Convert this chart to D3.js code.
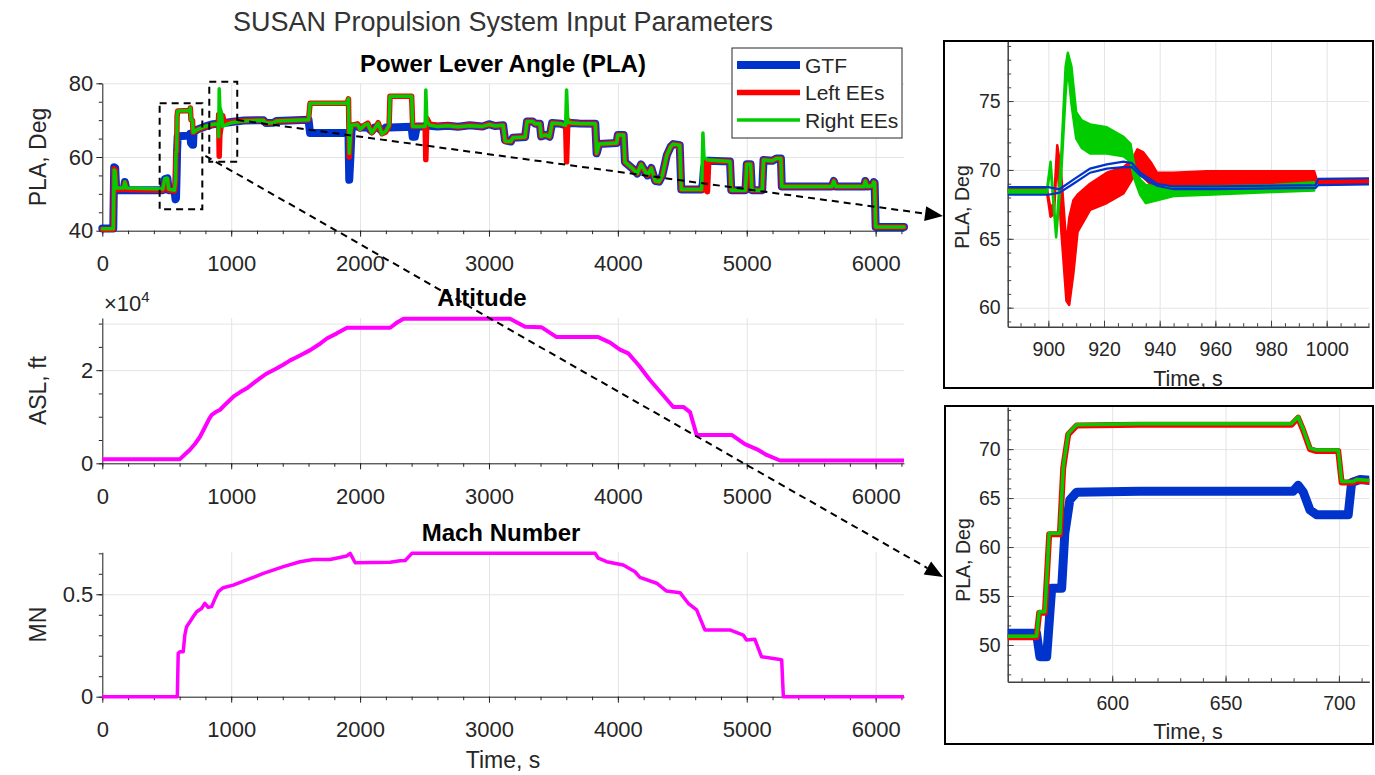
<!DOCTYPE html>
<meta charset="utf-8">
<style>
body { margin: 0; background: #fff; }
text { font-family: "Liberation Sans", Arial, sans-serif; fill: #262626; }
</style>
<body>
  <div class="chart"></div>
</body>
<script src="https://cdn.jsdelivr.net/npm/d3@7"></script>
<script>

// ---- main PLA trace (time in s, PLA in deg) ----
var plaTime = [0, 85, 92, 100, 108, 165, 175, 188, 470, 485, 505, 515, 560, 568, 572, 577, 580, 585, 680, 683,
  688, 700, 704, 708, 740, 800, 860, 900, 903, 907, 912, 925, 933, 945, 1000, 1100, 1250, 1270, 1330, 1350,
  1600, 1612, 1900, 1910, 1916, 1925, 1935, 1980, 2000, 2040, 2060, 2090, 2110, 2140, 2170, 2200, 2225, 2232, 2400, 2408,
  2425, 2440, 2505, 2510, 2518, 2540, 2600, 2680, 2760, 2850, 2950, 3000, 3050, 3110, 3125, 3170, 3185, 3280, 3295, 3340,
  3360, 3395, 3405, 3440, 3470, 3490, 3560, 3595, 3602, 3612, 3640, 3700, 3825, 3835, 3855, 3990, 4000, 4045, 4055, 4110,
  4150, 4180, 4230, 4260, 4290, 4320, 4345, 4380, 4410, 4430, 4480, 4492, 4650, 4660, 4668, 4685, 4695, 4705, 4870, 4880,
  4990, 5000, 5030, 5040, 5120, 5130, 5200, 5230, 5265, 5272, 5660, 5675, 5690, 5910, 5920, 5935, 5975, 5985, 5992, 6000, 6220];
var plaGtf = [40.6, 40.6, 57.2, 57.0, 51.0, 51.0, 53.2, 51.0, 51.0, 54.0, 54.2, 51.0, 51.0, 48.5, 48.8, 55.8, 61.4, 65.6, 65.8, 66.3,
  63.8, 63.3, 63.3, 66.7, 67.5, 68.3, 68.9, 69.0, 69.0, 69.3, 70.0, 70.4, 70.0, 69.2, 69.5, 69.9, 70.0, 69.2, 69.3, 69.8,
  70.1, 66.5, 66.5, 66.3, 53.8, 60.0, 68.3, 68.3, 68.0, 68.0, 68.0, 67.0, 68.0, 68.0, 67.0, 68.0, 68.0, 68.0, 68.2, 65.5,
  65.5, 68.3, 68.3, 68.6, 68.6, 68.5, 68.3, 68.5, 68.2, 68.6, 68.3, 68.9, 68.4, 68.6, 64.5, 64.2, 65.2, 65.4, 69.6, 69.6,
  69.0, 69.0, 65.6, 66.0, 65.5, 69.2, 69.0, 68.6, 69.0, 69.0, 69.2, 69.1, 69.0, 61.0, 63.5, 63.8, 66.0, 66.0, 58.6, 57.0,
  55.5, 58.0, 55.0, 57.0, 53.5, 53.3, 55.0, 60.5, 62.8, 63.5, 63.2, 51.2, 51.2, 53.0, 57.0, 59.0, 59.0, 59.0, 58.8, 51.0,
  51.0, 58.0, 58.0, 51.0, 51.0, 59.2, 59.0, 59.6, 59.6, 52.0, 52.0, 53.5, 52.0, 52.0, 53.5, 52.0, 52.2, 53.2, 53.0, 41.0, 41.0];
var plaLeftEEs = [40.4, 40.4, 56.8, 56.5, 51.2, 51.2, 53.0, 51.2, 51.0, 53.5, 53.8, 51.0, 50.8, 53.4, 61.4, 61.4, 71.0, 72.5, 72.6, 73.3,
  70.1, 69.9, 66.7, 66.7, 67.4, 68.2, 68.8, 68.9, 71.5, 60.2, 66.0, 69.0, 71.3, 69.4, 69.5, 69.9, 70.0, 69.2, 69.3, 69.8,
  70.1, 74.6, 74.6, 75.8, 60.0, 67.0, 68.6, 69.0, 67.6, 68.8, 69.2, 66.6, 67.3, 69.3, 66.3, 66.8, 68.5, 76.5, 76.5, 68.4,
  68.4, 68.4, 68.4, 59.3, 70.5, 69.0, 68.5, 68.6, 68.2, 68.6, 68.3, 68.9, 68.4, 68.6, 64.3, 64.2, 65.2, 65.4, 69.6, 69.6,
  69.0, 69.0, 65.6, 66.0, 65.5, 69.2, 69.0, 68.6, 58.7, 70.0, 69.2, 69.1, 69.0, 61.0, 63.5, 63.8, 66.0, 66.0, 58.6, 57.0,
  55.5, 58.0, 55.0, 57.0, 53.5, 53.3, 55.0, 60.5, 62.8, 63.5, 63.2, 51.2, 51.2, 51.0, 58.0, 59.0, 50.6, 59.0, 58.8, 51.0,
  51.0, 58.0, 58.0, 51.0, 51.0, 59.2, 59.0, 59.6, 59.6, 52.0, 52.0, 53.5, 52.0, 52.0, 53.5, 52.0, 52.2, 53.2, 53.0, 41.0, 41.0];
var plaRightEEs = [40.5, 40.5, 56.5, 56.2, 51.6, 51.6, 53.2, 51.6, 51.3, 54.2, 54.3, 51.3, 51.0, 53.4, 61.4, 61.4, 71.0, 72.5, 72.6, 73.3,
  70.1, 69.9, 66.7, 66.7, 67.5, 68.3, 68.9, 69.0, 65.5, 78.5, 73.5, 72.0, 68.3, 68.5, 69.3, 69.8, 70.0, 69.2, 69.3, 69.8,
  70.1, 74.6, 74.6, 75.8, 61.0, 66.0, 68.6, 68.8, 67.5, 68.8, 69.0, 66.5, 67.5, 69.2, 66.2, 67.0, 68.5, 76.5, 76.5, 68.3,
  68.3, 68.3, 68.3, 78.2, 69.8, 68.6, 68.3, 68.5, 68.2, 68.5, 68.3, 68.8, 68.4, 68.6, 64.3, 64.2, 65.2, 65.4, 69.6, 69.6,
  69.0, 69.0, 65.6, 66.0, 65.5, 69.2, 69.0, 68.6, 78.2, 69.5, 69.2, 69.1, 69.0, 61.0, 63.5, 63.8, 66.0, 66.0, 58.6, 57.0,
  55.5, 58.0, 55.0, 57.0, 53.5, 53.3, 55.0, 60.5, 62.8, 63.5, 63.2, 51.2, 51.2, 66.5, 60.0, 59.5, 59.2, 59.2, 58.8, 51.0,
  51.0, 58.0, 58.0, 51.0, 51.0, 59.2, 59.0, 59.6, 59.6, 52.0, 52.0, 53.5, 52.0, 52.0, 53.5, 52.0, 52.2, 53.2, 53.0, 41.0, 41.0];

// ---- altitude (ft) ----
var altTime = [0, 600, 640, 680, 720, 758, 797, 830, 849, 880, 914, 960, 1017, 1070, 1121, 1186, 1230, 1277, 1355, 1400,
  1458, 1530, 1613, 1680, 1742, 1820, 1898, 2234, 2290, 2337, 3163, 3280, 3409, 3525, 3848, 3940, 4016, 4081, 4160, 4249,
  4340, 4430, 4508, 4560, 4611, 4883, 4986, 5080, 5154, 5258, 6220];
var altFeet = [850, 850, 1900, 2900, 4200, 5700, 7800, 9600, 10400, 11000, 11500, 12800, 14300, 15300, 16100, 17500, 18400, 19300, 20400, 21100,
  22100, 23100, 24300, 25500, 26800, 27900, 29100, 29100, 30300, 31050, 31050, 29300, 29200, 27100, 27100, 25900, 24400, 23600, 21100, 17900,
  15000, 12100, 12100, 11000, 6100, 6100, 4100, 3000, 1800, 600, 600];

// ---- Mach number ----
var machTime = [0, 582, 589, 602, 628, 640, 654, 680, 705, 732, 770, 796, 822, 848, 875, 900, 938, 1016, 1120, 1250,
  1405, 1534, 1638, 1767, 1897, 1923, 1962, 2233, 2311, 2350, 2402, 3824, 3848, 3913, 4042, 4133, 4171, 4301, 4378, 4482,
  4546, 4611, 4675, 4869, 4973, 4998, 5063, 5115, 5258, 5271, 5284, 6220];
var machNumber = [0, 0, 0.212, 0.22, 0.22, 0.30, 0.342, 0.366, 0.39, 0.415, 0.431, 0.456, 0.436, 0.44, 0.48, 0.513, 0.532, 0.545, 0.570, 0.602,
  0.635, 0.659, 0.670, 0.670, 0.687, 0.700, 0.654, 0.656, 0.664, 0.665, 0.700, 0.700, 0.676, 0.659, 0.643, 0.610, 0.583, 0.554, 0.516, 0.508,
  0.456, 0.424, 0.326, 0.326, 0.301, 0.277, 0.280, 0.195, 0.182, 0.180, 0, 0];

// ---- zoom A (900-1000 s): bands of runs, upper / lower edge ----
var zoomATimeGtf = [885, 900, 904, 909, 915, 921, 927, 930, 933, 936, 939, 945, 960, 996, 997, 1016];
var zoomAGtfHigh = [68.75, 68.75, 68.6, 69.3, 70.1, 70.4, 70.6, 70.5, 69.8, 69.4, 69.0, 68.8, 68.8, 68.9, 69.35, 69.4];
var zoomAGtfLow  = [68.2, 68.2, 68.35, 69.0, 69.8, 70.1, 70.2, 70.2, 69.6, 69.2, 68.85, 68.6, 68.6, 68.7, 68.9, 68.95];
var zoomATimeLeft = [885, 899.5, 900.8, 902.0, 903.2, 904.5, 906.5, 907.5, 909, 910.5, 915, 921, 927, 930, 932, 934, 937, 939, 945, 957, 981, 995.5, 996.5, 1016];
var zoomALeftHigh = [68.6, 68.6, 67.2, 67.6, 71.8, 70.0, 64.5, 66.5, 67.8, 68.2, 69.0, 69.8, 70.2, 70.7, 71.5, 71.3, 70.5, 69.8, 69.8, 69.9, 69.9, 69.9, 69.25, 69.25];
var zoomALeftLow  = [68.4, 68.4, 66.6, 66.8, 71.0, 66.0, 60.5, 60.2, 62.5, 65.5, 67.1, 67.6, 68.3, 69.3, 69.8, 69.5, 68.9, 68.8, 68.7, 68.9, 69.0, 69.0, 69.05, 69.05];
var zoomATimeRight = [885, 899.5, 900.8, 902.8, 904.5, 906.2, 907, 908.3, 910, 912, 915, 921, 927, 929.5, 931, 933, 935, 939, 945, 957, 981, 995.5];
var zoomARightHigh = [68.55, 68.55, 70.6, 65.4, 70.5, 77.5, 78.5, 77.5, 74.2, 73.6, 73.3, 73.1, 72.4, 71.9, 70.2, 69.3, 68.9, 68.8, 68.7, 68.8, 68.9, 69.1];
var zoomARightLow  = [68.35, 68.35, 70.2, 65.1, 69.2, 75.5, 77.5, 74.8, 72.3, 71.6, 71.2, 71.2, 71.0, 70.6, 69.3, 68.2, 67.6, 67.8, 68.1, 68.2, 68.4, 68.5];

// ---- zoom B (560-710 s) ----
var zoomBTimeGtf = [553, 566.6, 568.1, 571.1, 573.3, 577.7, 579.1, 581.3, 584.3, 612, 679.8, 682.0, 684.3, 687.2, 690.1, 704.1, 705.6, 709.3, 714];
var zoomBGtf = [51.2, 51.2, 48.8, 48.8, 55.8, 55.8, 61.4, 64.8, 65.6, 65.7, 65.7, 66.3, 65.6, 63.8, 63.3, 63.3, 66.6, 66.9, 66.8];
var zoomBTimeEEs = [553, 566.6, 567.8, 570.3, 572.2, 576.9, 578.4, 580.6, 584.3, 612, 679.1, 682.0, 684.3, 687.2, 690.1, 699.7, 701.2, 706.3, 707.8, 714];
var zoomBLeftEEs = [50.8, 50.8, 53.3, 53.3, 61.3, 61.3, 68.1, 71.5, 72.4, 72.5, 72.5, 73.2, 71.9, 70.0, 69.8, 69.8, 66.6, 66.6, 66.8, 66.7];
var zoomBRightEEs = [50.9, 50.9, 53.4, 53.4, 61.4, 61.4, 68.2, 71.6, 72.5, 72.6, 72.6, 73.3, 72.0, 70.1, 69.9, 69.9, 66.7, 66.7, 66.9, 66.8];

// ---- tick labels ----
var timeTicks = [0, 1000, 2000, 3000, 4000, 5000, 6000];
var plaTicks = [40, 60, 80];
var altTicks = [0, 20000];
var machTicks = [0, 0.5];
var zoomATimeTicks = [900, 920, 940, 960, 980, 1000];
var zoomAPlaTicks = [60, 65, 70, 75];
var zoomBTimeTicks = [600, 650, 700];
var zoomBPlaTicks = [50, 55, 60, 65, 70];

// zoomed windows marked on the PLA plot
var zoomBoxTime = [[445, 776], [830, 1047]];
var zoomBoxPla = [[45.8, 74.6], [58.7, 80.4]];

var seriesNames = ["GTF", "Left EEs", "Right EEs"];
var seriesColors = ["#0033cc", "#ff0000", "#00cc00"];

var fontFamily = "'Liberation Sans', Arial, sans-serif";

var svg = d3.select(".chart")
        .append("svg")
        .attr("width", 1375)
        .attr("height", 775)
        .style("display", "block");

// scales
var x = d3.scaleLinear().domain([0, 6220]).range([102.3, 904]);
var yPla = d3.scaleLinear().domain([40, 80]).range([230.7, 83.3]);
var yAlt = d3.scaleLinear().domain([0, 31200]).range([463.3, 318]);
var yMach = d3.scaleLinear().domain([0, 0.705]).range([696.7, 552.3]);

var xA = d3.scaleLinear().domain([885.4, 1015.2]).range([1007.7, 1369]);
var yA = d3.scaleLinear().domain([58.62, 79.36]).range([326.7, 41]);
var xB = d3.scaleLinear().domain([553.9, 713.4]).range([1007.7, 1369.3]);
var yB = d3.scaleLinear().domain([46.25, 74.3]).range([681.7, 407]);

function drawAxes(xs, ys, o) {
    var g = svg.append("g");
    var y0 = ys.range()[0], y1 = ys.range()[1];
    var x0 = xs.range()[0], x1 = xs.range()[1];
    var dir = o.inward ? -1 : 1;

    // grid
    g.append("g")
        .attr("transform", "translate(0," + y0 + ")")
        .call(d3.axisBottom(xs).tickValues(o.xTicks).tickSize(-(y0 - y1)).tickFormat(""))
        .call(function(s) { s.select(".domain").remove(); })
        .selectAll("line").attr("stroke", "#e4e4e4");
    g.append("g")
        .attr("transform", "translate(" + x0 + ",0)")
        .call(d3.axisLeft(ys).tickValues(o.yTicks).tickSize(-(x1 - x0)).tickFormat(""))
        .call(function(s) { s.select(".domain").remove(); })
        .selectAll("line").attr("stroke", "#e4e4e4");

    // minor ticks
    g.append("g")
        .attr("transform", "translate(0," + y0 + ")")
        .call(d3.axisBottom(xs).tickValues(o.xMinor).tickSizeInner(dir * 3.5).tickSizeOuter(0).tickFormat(""))
        .call(function(s) { s.select(".domain").remove(); })
        .selectAll("line").attr("stroke", o.axisColor);
    g.append("g")
        .attr("transform", "translate(" + x0 + ",0)")
        .call(d3.axisLeft(ys).tickValues(o.yMinor).tickSizeInner(dir * 3.5).tickSizeOuter(0).tickFormat(""))
        .call(function(s) { s.select(".domain").remove(); })
        .selectAll("line").attr("stroke", o.axisColor);

    // major ticks and labels
    var xa = g.append("g")
        .attr("transform", "translate(0," + y0 + ")")
        .call(d3.axisBottom(xs).tickValues(o.xTicks).tickSizeInner(dir * 6).tickSizeOuter(0)
            .tickPadding(o.xPad).tickFormat(o.xFmt || d3.format("d")));
    var ya = g.append("g")
        .attr("transform", "translate(" + x0 + ",0)")
        .call(d3.axisLeft(ys).tickValues(o.yLabelTicks || o.yTicks).tickSizeInner(dir * 6).tickSizeOuter(0)
            .tickPadding(o.yPad).tickFormat(o.yFmt || d3.format("d")));
    [xa, ya].forEach(function(a) {
        a.attr("font-size", o.font).attr("font-family", fontFamily);
        a.selectAll("text").attr("fill", "#262626");
        a.selectAll("line").attr("stroke", o.axisColor);
        a.select(".domain").attr("stroke", o.axisColor).attr("stroke-width", o.axisWidth || 1);
    });
    return g;
}

function series(t, v) {
    return t.map(function(d, i) { return [d, v[i]]; });
}
function band(t, hi, lo) {
    return t.map(function(d, i) { return [d, hi[i], lo[i]]; });
}

// ---------- main panels ----------
var mainOpts = { inward: false, font: 22, xPad: 19, yPad: 3, axisColor: "#262626",
                 xTicks: timeTicks, xMinor: d3.range(0, 6201, 200) };

drawAxes(x, yPla, Object.assign({}, mainOpts, { yTicks: plaTicks, yMinor: d3.range(40, 81, 5) }));
drawAxes(x, yAlt, Object.assign({}, mainOpts, { yTicks: altTicks.concat([30000]), yLabelTicks: altTicks,
    yMinor: d3.range(0, 30001, 5000), yFmt: function(d) { return d / 10000; } }));
drawAxes(x, yMach, Object.assign({}, mainOpts, { yTicks: machTicks, yMinor: d3.range(0, 0.71, 0.1),
    yFmt: function(d) { return d === 0 ? "0" : d3.format(".1f")(d); } }));

// PLA lines
var plaWidths = [8, 5.5, 3.5];
[plaGtf, plaLeftEEs, plaRightEEs].forEach(function(vals, i) {
    var line = d3.line().x(function(d) { return x(d[0]); }).y(function(d) { return yPla(d[1]); });
    svg.append("path")
        .datum(series(plaTime, vals))
        .attr("d", line)
        .attr("fill", "none")
        .attr("stroke", seriesColors[i])
        .attr("stroke-width", plaWidths[i])
        .attr("stroke-linejoin", "round")
        .attr("stroke-linecap", "round");
});

svg.append("path")
    .datum(series(altTime, altFeet))
    .attr("d", d3.line().x(function(d) { return x(d[0]); }).y(function(d) { return yAlt(d[1]); }))
    .attr("fill", "none").attr("stroke", "#ff00ff").attr("stroke-width", 4)
    .attr("stroke-linejoin", "round");

svg.append("path")
    .datum(series(machTime, machNumber))
    .attr("d", d3.line().x(function(d) { return x(d[0]); }).y(function(d) { return yMach(d[1]); }))
    .attr("fill", "none").attr("stroke", "#ff00ff").attr("stroke-width", 3.5)
    .attr("stroke-linejoin", "round");

// titles and labels
svg.append("text").attr("x", 503).attr("y", 31).attr("text-anchor", "middle")
    .attr("font-size", 27).style("fill", "#333").text("SUSAN Propulsion System Input Parameters");
svg.append("text").attr("x", 503).attr("y", 72).attr("text-anchor", "middle")
    .attr("font-size", 24).attr("font-weight", "bold").style("fill", "#000").text("Power Lever Angle (PLA)");
svg.append("text").attr("x", 482).attr("y", 306).attr("text-anchor", "middle")
    .attr("font-size", 24).attr("font-weight", "bold").style("fill", "#000").text("Altitude");
svg.append("text").attr("x", 501).attr("y", 541).attr("text-anchor", "middle")
    .attr("font-size", 24).attr("font-weight", "bold").style("fill", "#000").text("Mach Number");

var xTen = svg.append("text").attr("x", 104).attr("y", 311).attr("font-size", 22);
xTen.append("tspan").text("\u00d710");
xTen.append("tspan").attr("font-size", 15).attr("dy", -9).text("4");

[["PLA, Deg", 157], ["ASL, ft", 390.6], ["MN", 624.5]].forEach(function(l) {
    svg.append("text")
        .attr("transform", "translate(38," + l[1] + ") rotate(-90)")
        .attr("text-anchor", "middle").attr("dy", "0.35em")
        .attr("font-size", 23).text(l[0]);
});
svg.append("text").attr("x", 503).attr("y", 768).attr("text-anchor", "middle")
    .attr("font-size", 23).text("Time, s");

// legend
var legend = svg.append("g").attr("transform", "translate(732,48)");
legend.append("rect").attr("width", 170).attr("height", 90)
    .attr("fill", "#fff").attr("stroke", "#262626").attr("stroke-width", 1);
seriesNames.forEach(function(name, i) {
    var yy = 17 + i * 27.5;
    legend.append("line").attr("x1", 5).attr("x2", 68).attr("y1", yy).attr("y2", yy)
        .attr("stroke", seriesColors[i]).attr("stroke-width", plaWidths[i]);
    legend.append("text").attr("x", 73).attr("y", yy + 7.7).attr("font-size", 21).text(name);
});

// ---------- inset A ----------
var defs = svg.append("defs");
defs.append("clipPath").attr("id", "clipA").append("rect")
    .attr("x", xA.range()[0]).attr("y", 41).attr("width", xA.range()[1] - xA.range()[0]).attr("height", yA.range()[0] - 41);
defs.append("clipPath").attr("id", "clipB").append("rect")
    .attr("x", xB.range()[0]).attr("y", 407).attr("width", xB.range()[1] - xB.range()[0]).attr("height", yB.range()[0] - 407);

drawAxes(xA, yA, { inward: true, font: 19.5, xPad: 15, yPad: 7, axisColor: "#404040", axisWidth: 1.5,
    xTicks: zoomATimeTicks, xMinor: d3.range(890, 1016, 5), yTicks: zoomAPlaTicks, yMinor: d3.range(59, 80, 1) });

var gA = svg.append("g").attr("clip-path", "url(#clipA)");
var areaA = d3.area().x(function(d) { return xA(d[0]); })
    .y0(function(d) { return yA(d[2]); }).y1(function(d) { return yA(d[1]); });
gA.append("path").datum(band(zoomATimeLeft, zoomALeftHigh, zoomALeftLow)).attr("d", areaA)
    .attr("fill", seriesColors[1]).attr("stroke", seriesColors[1]).attr("stroke-width", 2.5).attr("stroke-linejoin", "round");
gA.append("path").datum(band(zoomATimeRight, zoomARightHigh, zoomARightLow)).attr("d", areaA)
    .attr("fill", seriesColors[2]).attr("stroke", seriesColors[2]).attr("stroke-width", 2.5).attr("stroke-linejoin", "round");
[zoomAGtfHigh, zoomAGtfLow].forEach(function(vals) {
    gA.append("path").datum(series(zoomATimeGtf, vals))
        .attr("d", d3.line().x(function(d) { return xA(d[0]); }).y(function(d) { return yA(d[1]); }))
        .attr("fill", "none").attr("stroke", seriesColors[0]).attr("stroke-width", 2.2);
});

svg.append("text").attr("transform", "translate(962,207) rotate(-90)")
    .attr("text-anchor", "middle").attr("dy", "0.35em").attr("font-size", 19.5).text("PLA, Deg");
svg.append("text").attr("x", 1188).attr("y", 386).attr("text-anchor", "middle")
    .attr("font-size", 21.5).text("Time, s");
svg.append("rect").attr("x", 944).attr("y", 41).attr("width", 429).attr("height", 347)
    .attr("fill", "none").attr("stroke", "#000").attr("stroke-width", 2);

// ---------- inset B ----------
drawAxes(xB, yB, { inward: true, font: 19.5, xPad: 14, yPad: 7, axisColor: "#404040", axisWidth: 1.5,
    xTicks: zoomBTimeTicks, xMinor: d3.range(560, 711, 10), yTicks: zoomBPlaTicks, yMinor: d3.range(47, 75, 1) });

var gB = svg.append("g").attr("clip-path", "url(#clipB)");
var lineB = d3.line().x(function(d) { return xB(d[0]); }).y(function(d) { return yB(d[1]); });
gB.append("path").datum(series(zoomBTimeGtf, zoomBGtf)).attr("d", lineB)
    .attr("fill", "none").attr("stroke", seriesColors[0]).attr("stroke-width", 9)
    .attr("stroke-linejoin", "round").attr("stroke-linecap", "round");
gB.append("path").datum(series(zoomBTimeEEs, zoomBLeftEEs)).attr("d", lineB)
    .attr("fill", "none").attr("stroke", seriesColors[1]).attr("stroke-width", 6)
    .attr("stroke-linejoin", "round").attr("stroke-linecap", "round");
gB.append("path").datum(series(zoomBTimeEEs, zoomBRightEEs)).attr("d", lineB)
    .attr("fill", "none").attr("stroke", seriesColors[2]).attr("stroke-width", 3.5)
    .attr("stroke-linejoin", "round").attr("stroke-linecap", "round");

svg.append("text").attr("transform", "translate(963,560) rotate(-90)")
    .attr("text-anchor", "middle").attr("dy", "0.35em").attr("font-size", 19.5).text("PLA, Deg");
svg.append("text").attr("x", 1188).attr("y", 739).attr("text-anchor", "middle")
    .attr("font-size", 21.5).text("Time, s");
svg.append("rect").attr("x", 945).attr("y", 406).attr("width", 428).attr("height", 338)
    .attr("fill", "none").attr("stroke", "#000").attr("stroke-width", 2);

// ---------- zoom boxes and arrows ----------
zoomBoxTime.forEach(function(tr, i) {
    svg.append("rect")
        .attr("x", x(tr[0])).attr("y", yPla(zoomBoxPla[i][1]))
        .attr("width", x(tr[1]) - x(tr[0]))
        .attr("height", yPla(zoomBoxPla[i][0]) - yPla(zoomBoxPla[i][1]))
        .attr("fill", "none").attr("stroke", "#000").attr("stroke-width", 2)
        .attr("stroke-dasharray", "7,5");
});

var arrows = [
    { from: [x(1047), yPla(70.05)], to: [943, 216] },
    { from: [x(800), yPla(60.3)], to: [943, 577] }
];
arrows.forEach(function(a) {
    var dx = a.to[0] - a.from[0], dy = a.to[1] - a.from[1];
    var len = Math.sqrt(dx * dx + dy * dy), ux = dx / len, uy = dy / len;
    var headLen = 18, headW = 7.5;
    var bx = a.to[0] - ux * headLen, by = a.to[1] - uy * headLen;
    svg.append("line")
        .attr("x1", a.from[0]).attr("y1", a.from[1]).attr("x2", bx).attr("y2", by)
        .attr("stroke", "#000").attr("stroke-width", 2).attr("stroke-dasharray", "7,5");
    svg.append("path")
        .attr("d", "M" + a.to[0] + "," + a.to[1] +
            "L" + (bx - uy * headW) + "," + (by + ux * headW) +
            "L" + (bx + uy * headW) + "," + (by - ux * headW) + "Z")
        .attr("fill", "#000");
});

</script>
